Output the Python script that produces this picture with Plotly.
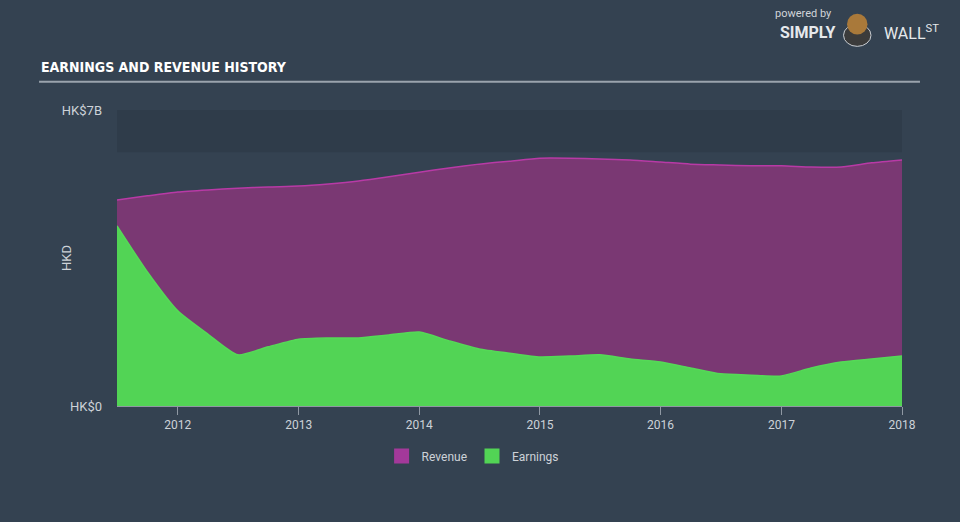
import plotly.graph_objects as go

dates = ["2011-07-01", "2011-10-01", "2012-01-01", "2012-04-01", "2012-07-01", "2012-10-01",
         "2013-01-01", "2013-04-01", "2013-07-01", "2013-10-01", "2014-01-01", "2014-04-01",
         "2014-07-01", "2014-10-01", "2015-01-01", "2015-04-01", "2015-07-01", "2015-10-01",
         "2016-01-01", "2016-04-01", "2016-07-01", "2016-10-01", "2017-01-01", "2017-04-01",
         "2017-07-01", "2017-10-01", "2018-01-01"]
revenue_b = [4.87, 4.97, 5.06, 5.11, 5.15, 5.18, 5.20, 5.25, 5.32, 5.42, 5.53, 5.63,
             5.72, 5.79, 5.86, 5.86, 5.84, 5.82, 5.77, 5.72, 5.70, 5.68, 5.68, 5.65,
             5.65, 5.75, 5.82]
earnings_b = [4.26, 3.17, 2.25, 1.70, 1.21, 1.40, 1.58, 1.61, 1.61, 1.68, 1.75, 1.54,
              1.35, 1.25, 1.16, 1.18, 1.21, 1.11, 1.04, 0.90, 0.76, 0.73, 0.71, 0.90,
              1.04, 1.11, 1.18]
year_ticks = ["2012", "2013", "2014", "2015", "2016", "2017", "2018"]
y_tickvals = [0, 7e9]
y_ticktext = ["HK$0", "HK$7B"]

revenue = [v * 1e9 for v in revenue_b]
earnings = [v * 1e9 for v in earnings_b]

BG = "#344251"
TXT = "#cdd2d8"
REV_FILL = "#7a3873"
EARN_FILL = "#52d455"

fig = go.Figure()
fig.add_trace(go.Scatter(
    x=dates, y=revenue, name="Revenue", mode="lines", showlegend=False,
    line=dict(color="#b83aa6", width=1.5, shape="spline", smoothing=0.6),
    fill="tozeroy", fillcolor=REV_FILL))
fig.add_trace(go.Scatter(
    x=dates, y=earnings, name="Earnings", mode="lines", showlegend=False,
    line=dict(color="#55d957", width=1.5, shape="spline", smoothing=0.6),
    fill="tozeroy", fillcolor=EARN_FILL))
# legend swatches (square markers)
fig.add_trace(go.Scatter(x=[None], y=[None], name="Revenue", mode="markers",
                         marker=dict(symbol="square", size=15, color="#a3399a")))
fig.add_trace(go.Scatter(x=[None], y=[None], name="Earnings", mode="markers",
                         marker=dict(symbol="square", size=15, color=EARN_FILL)))

fig.add_shape(type="rect", xref="paper", yref="y", x0=0, x1=1, y0=6e9, y1=7e9,
              fillcolor="rgba(20,30,40,0.15)", line=dict(width=0), layer="below")
fig.add_shape(type="line", xref="paper", yref="paper", x0=-0.0993, x1=1.0229,
              y0=1.0955, y1=1.0955, line=dict(color="#9aa3ad", width=2))

fig.update_layout(
    width=960, height=522,
    paper_bgcolor=BG, plot_bgcolor=BG,
    margin=dict(l=117, r=58, t=110, b=116),
    showlegend=True,
    legend=dict(orientation="h", x=0.453, xanchor="center", y=-0.169, yanchor="middle",
                font=dict(family="Roboto, sans-serif", size=12, color=TXT),
                bgcolor="rgba(0,0,0,0)", itemwidth=30),
    xaxis=dict(type="date", range=["2011-07-01", "2018-01-01"],
               tickvals=[f"{y}-01-01" for y in year_ticks], ticktext=year_ticks,
               showgrid=False, zeroline=False, showline=True, linecolor="#8f98a3",
               linewidth=1, ticks="outside", ticklen=8, tickcolor="#8f98a3",
               tickfont=dict(family="Roboto, sans-serif", size=12, color=TXT)),
    yaxis=dict(range=[0, 7e9], tickvals=y_tickvals, ticktext=y_ticktext,
               showgrid=False, zeroline=False, showline=False, ticks="",
               ticklabelstandoff=14,
               tickfont=dict(family="Roboto, sans-serif", size=13, color=TXT)),
)

fig.add_annotation(text="HKD", xref="paper", yref="paper", x=(66 - 117) / 785, y=0.5,
                   xanchor="center", yanchor="middle", textangle=-90, showarrow=False,
                   font=dict(family="Roboto, sans-serif", size=13, color=TXT))
fig.add_annotation(text="<b>EARNINGS AND REVENUE HISTORY</b>", xref="paper", yref="paper",
                   x=-0.0993, y=1.145, xanchor="left", yanchor="middle", showarrow=False,
                   font=dict(family="DejaVu Sans Condensed, Liberation Sans Narrow, sans-serif",
                             size=14, color="#ffffff"))
fig.add_annotation(text="powered by", xref="paper", yref="paper",
                   x=0.875, y=1.325, xanchor="center", yanchor="middle", showarrow=False,
                   font=dict(family="Roboto, sans-serif", size=11, color="#d0d4d9"))
fig.add_annotation(text="<b>SIMPLY</b>", xref="paper", yref="paper",
                   x=0.880, y=1.262, xanchor="center", yanchor="middle", showarrow=False,
                   font=dict(family="Roboto, sans-serif", size=16, color="#e6e9ec"))
fig.add_annotation(text="WALL<sup>ST</sup>", xref="paper", yref="paper",
                   x=1.012, y=1.262, xanchor="center", yanchor="middle", showarrow=False,
                   font=dict(family="Roboto, sans-serif", size=16, color="#e6e9ec"))
fig.add_shape(type="circle", xref="paper", yref="paper",
              x0=0.9255, x1=0.9605, y0=1.215, y1=1.29,
              fillcolor="#3b3b3b", line=dict(color="#c9cdd2", width=1))
fig.add_shape(type="circle", xref="paper", yref="paper",
              x0=0.9300, x1=0.9560, y0=1.255, y1=1.325,
              fillcolor="#a9793a", line=dict(width=0))

fig.write_html("out.html")
